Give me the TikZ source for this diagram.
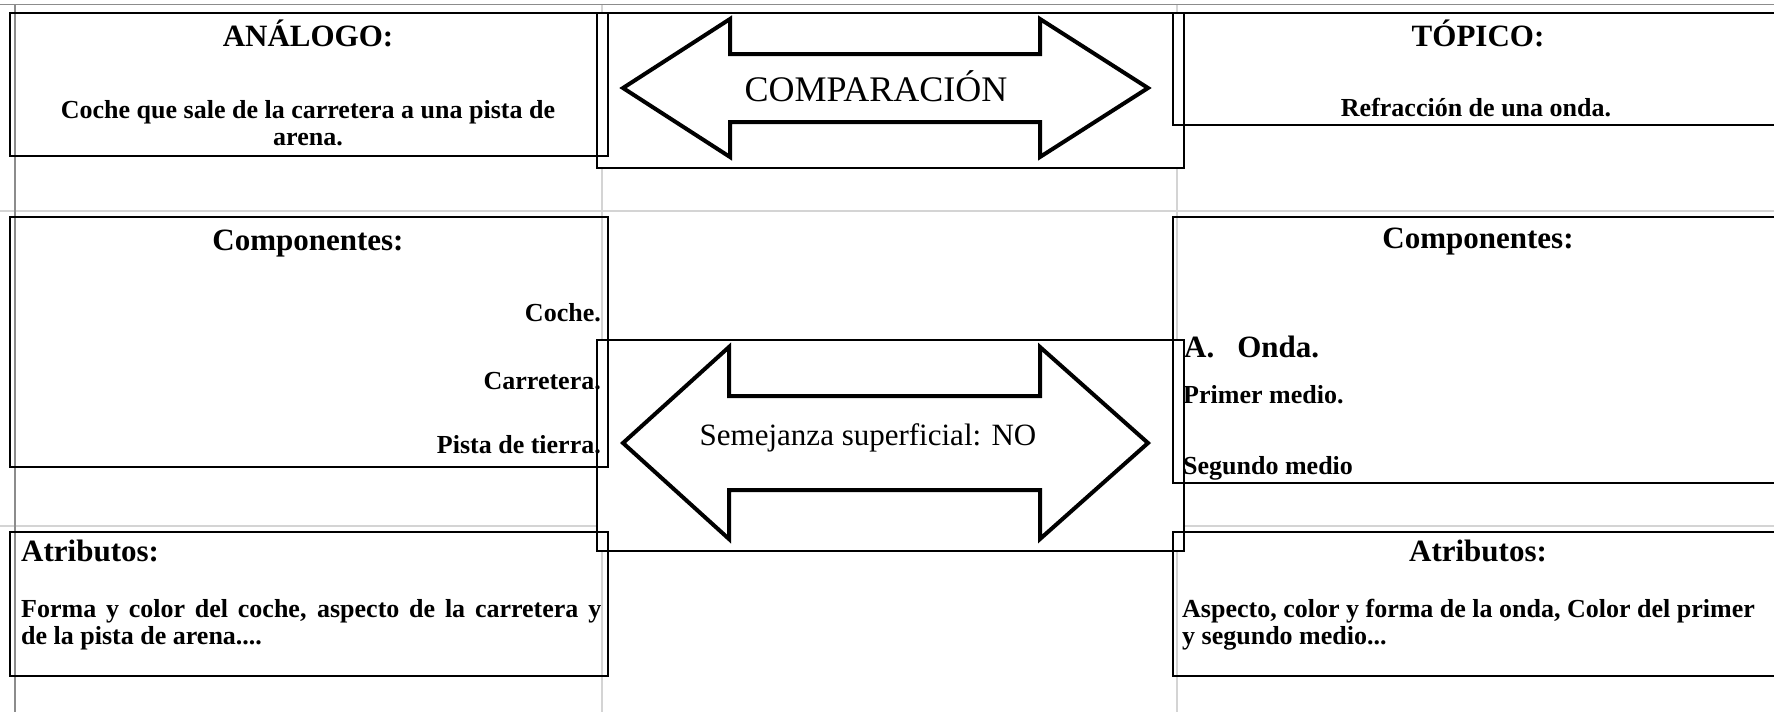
\documentclass[tikz,border=0pt]{standalone}
\usepackage{fontspec}
\setmainfont{Liberation Serif}
\usetikzlibrary{positioning}

\begin{document}
\begin{tikzpicture}[x=1pt, y=-1pt,
    grid/.style={draw=black!17, line width=1.2pt},
    frame/.style={draw=black!45, line width=1.5pt},
    box/.style={draw, line width=2.2pt, inner sep=0pt, anchor=north west},
    arrowbox/.style={draw, fill=white, line width=1.8pt, inner sep=0pt, anchor=north west},
    bigarrow/.style={draw, line width=4pt, line join=miter},
    head/.style={font=\fontsize{31}{34}\selectfont\bfseries, inner sep=0pt},
    body/.style={font=\fontsize{26}{27}\selectfont\bfseries, inner sep=0pt},
    word/.style={font=\fontsize{36}{38}\selectfont, inner sep=0pt}
]
\useasboundingbox (0,0) rectangle (1774,712);
\clip (0,0) rectangle (1774,712);

% sheet grid
\draw[grid] (0,211) -- (1774,211);
\draw[grid] (0,526) -- (1774,526);
\draw[grid] (602,4.5) -- (602,712);
\draw[grid] (1177,4.5) -- (1177,712);
\draw[frame] (0,4.5) -- (1774,4.5);
\draw[frame] (15,4.5) -- (15,712);

% comparison arrows
\node[arrowbox, minimum width=587pt, minimum height=155pt] (cmpbox) at (596,12) {};
\node[arrowbox, minimum width=587pt, minimum height=211pt] (sembox) at (596,339) {};
\draw[bigarrow] (623,88) -- (730,19) -- (730,54) -- (1040,54) -- (1040,19) -- (1148,88)
    -- (1040,157) -- (1040,122) -- (730,122) -- (730,157) -- cycle;
\draw[bigarrow] (623,443) -- (729,347) -- (729,396) -- (1040,396) -- (1040,347) -- (1148,443)
    -- (1040,539) -- (1040,490) -- (729,490) -- (729,539) -- cycle;
\node[word] (cmp) at (876,86) {COMPARACIÓN};
\node[word, font=\fontsize{31}{34}\selectfont] (sem) at (868,438) {Semejanza superficial: NO};

% analog side
\node[box, minimum width=598pt, minimum height=143pt] (analog) at (9,12) {};
\node[box, minimum width=598pt, minimum height=250pt] (acomp) at (9,216) {};
\node[box, minimum width=598pt, minimum height=144pt] (aattr) at (9,531) {};
\node[head] (analogT) at (308,33) {ANÁLOGO:};
\node[body, align=center] (analogB) at (308,123) {Coche que sale de la carretera a una pista de\\arena.};
\node[head] (acompT) at (308,244) {Componentes:};
\node[body, anchor=east] (car) at (601,313) {Coche.};
\node[body, anchor=east] (road) at (601,381) {Carretera.};
\node[body, anchor=east] (track) at (601,445) {Pista de tierra.};
\node[head, anchor=west] (aattrT) at (21,551) {Atributos:};
\node[body, anchor=west, text width=580pt, align=justify] (aattrB) at (21,625)
    {Forma y color del coche, aspecto de la carretera y\linebreak de la pista de arena....};

% topic side
\node[box, minimum width=612pt, minimum height=112pt] (topic) at (1172,12) {};
\node[box, minimum width=612pt, minimum height=266pt] (tcomp) at (1172,216) {};
\node[box, minimum width=612pt, minimum height=144pt] (tattr) at (1172,531) {};
\node[head] (topicT) at (1478,33) {TÓPICO:};
\node[body] (topicB) at (1476,108) {Refracción de una onda.};
\node[head] (tcompT) at (1478,242) {Componentes:};
\node[head, anchor=west] (wave) at (1184,347) {A.\hspace{23pt}Onda.};
\node[body, anchor=west] (first) at (1183,395) {Primer medio.};
\node[body, anchor=west] (second) at (1183,468) {Segundo medio};
\node[head] (tattrT) at (1478,551) {Atributos:};
\node[body, anchor=west, align=left] (tattrB) at (1182,625)
    {Aspecto, color y forma de la onda, Color del primer\\y segundo medio...};
\end{tikzpicture}
\end{document}
